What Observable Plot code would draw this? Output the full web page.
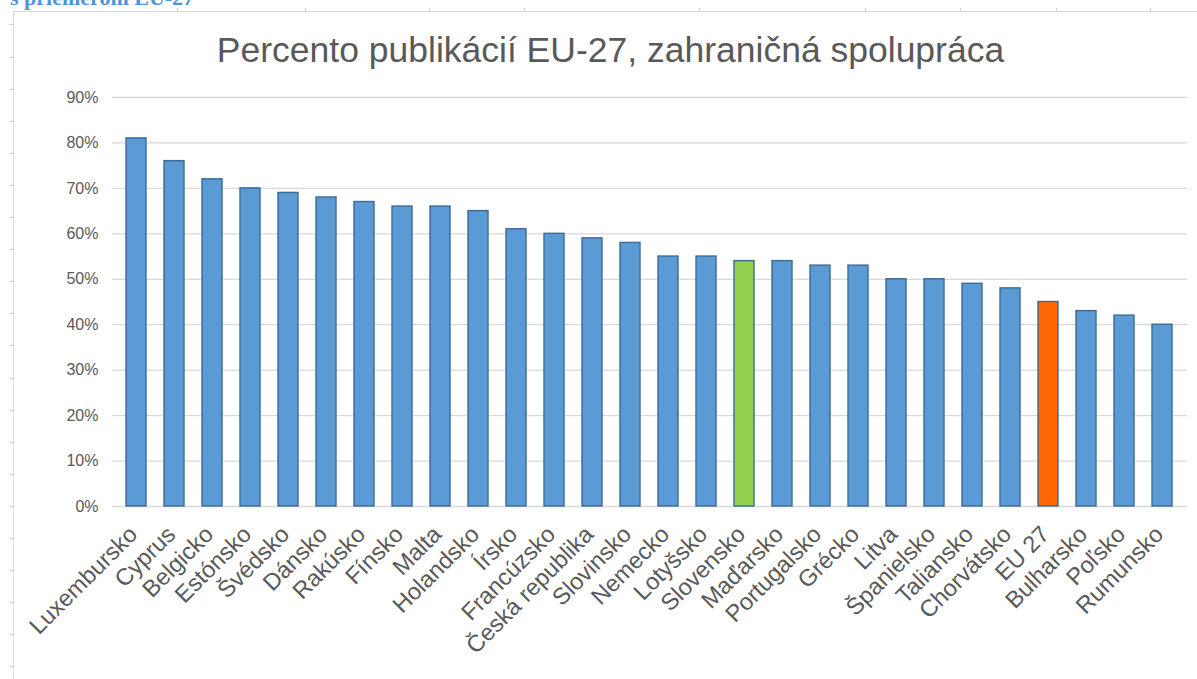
<!DOCTYPE html>
<html>
<head>
<meta charset="utf-8">
<script src="https://cdn.jsdelivr.net/npm/d3@7"></script>
<script src="https://cdn.jsdelivr.net/npm/@observablehq/plot@0.6"></script>
<style>
  html, body { margin: 0; padding: 0; background: #fff; }
  body { width: 1197px; height: 679px; position: relative; overflow: hidden; font-family: "Liberation Sans", Arial, sans-serif; }
  #heading { position: absolute; left: 10px; top: -13px; font-family: "Liberation Serif", "Times New Roman", serif; font-weight: bold; font-size: 22px; line-height: 22px; color: #4f93d8; white-space: nowrap; }
  #frame { position: absolute; left: 13px; top: 11px; right: -2px; bottom: -2px; border-top: 1.5px solid #d9d9d9; border-left: 1.5px solid #d9d9d9; }
  #ruler { position: absolute; left: 9px; top: 11px; width: 4px; bottom: 0; background: repeating-linear-gradient(to bottom, transparent 0px, transparent 13.5px, #d0d0d0 13.5px, #d0d0d0 14.5px, transparent 14.5px, transparent 32.1px); }
  .topTick { position: absolute; top: 8px; width: 1px; height: 3px; background: #d0d0d0; }
  #chart { position: absolute; left: 0; top: 0; }
  #title { position: absolute; left: 0; width: 1221px; top: 33px; text-align: center; font-size: 35.5px; line-height: 35.5px; color: #595959; white-space: nowrap; }
</style>
</head>
<body>
<div id="heading">s priemerom EU-27</div>
<div id="frame"></div>
<div id="ruler"></div>
<div id="chart"></div>
<div id="title">Percento publikácií EU-27, zahraničná spolupráca</div>
<script>
const countries = ["Luxembursko","Cyprus","Belgicko","Estónsko","Švédsko","Dánsko","Rakúsko","Fínsko","Malta","Holandsko","Írsko","Francúzsko","Česká republika","Slovinsko","Nemecko","Lotyšsko","Slovensko","Maďarsko","Portugalsko","Grécko","Litva","Španielsko","Taliansko","Chorvátsko","EU 27","Bulharsko","Poľsko","Rumunsko"];
const values = [81,76,72,70,69,68,67,66,66,65,61,60,59,58,55,55,54,54,53,53,50,50,49,48,45,43,42,40];
const yTicks = [0,10,20,30,40,50,60,70,80,90];
const topRulerTicks = [177,305,429,524,699,865,960,1056,1150];

const data = countries.map((c, i) => ({country: c, value: values[i]}));
const fillFor = c => c === "Slovensko" ? "#92d050" : c === "EU 27" ? "#ff6600" : "#5b9bd5";

topRulerTicks.forEach(x => {
  const t = document.createElement("div");
  t.className = "topTick";
  t.style.left = x + "px";
  document.body.appendChild(t);
});

const chart = Plot.plot({
  width: 1197,
  height: 679,
  marginLeft: 112,
  marginRight: 10,
  marginTop: 97,
  marginBottom: 173,
  style: {background: "transparent", fontFamily: "'Liberation Sans', Arial, sans-serif", overflow: "visible"},
  x: {domain: countries, paddingInner: 0.47, paddingOuter: 0.24, label: null},
  y: {domain: [0, 90], label: null},
  marks: [
    Plot.gridY(yTicks, {stroke: "#d9d9d9", strokeOpacity: 1, strokeWidth: 1.3}),
    Plot.barY(data, {x: "country", y: "value", fill: d => fillFor(d.country), stroke: "#3b6a96", strokeWidth: 1.4}),
    Plot.axisY(yTicks, {tickSize: 0, tickPadding: 14, fontSize: 16, fill: "#595959", tickFormat: d => d + "%", label: null}),
    Plot.axisX({tickRotate: -45, tickSize: 0, tickPadding: 24, fontSize: 23.5, fill: "#595959", dx: -3, label: null})
  ]
});
document.getElementById("chart").appendChild(chart);
</script>
</body>
</html>
